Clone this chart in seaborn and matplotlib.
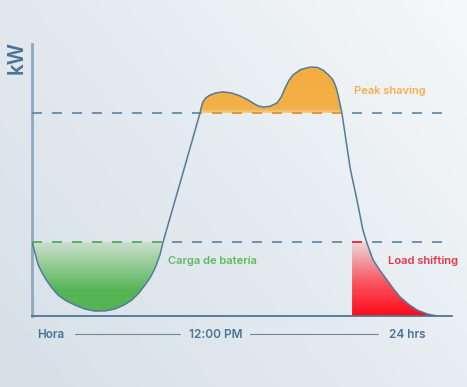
import numpy as np
import pandas as pd
import matplotlib
matplotlib.use("Agg")
import matplotlib.pyplot as plt
import seaborn as sns
from matplotlib.colors import LinearSegmentedColormap
from matplotlib.patches import Rectangle

# load profile (hours, kW on a 0-100 scale)
hours = [0.0, 0.2, 0.36, 0.55, 0.74, 1.1, 1.49, 1.95, 2.46, 3.0, 3.6, 4.2, 4.74,
         5.25, 5.71, 6.1, 6.46, 6.78, 7.03, 7.31, 7.49, 8.51, 9.6, 9.68, 9.77,
         9.95, 10.17, 10.5, 10.91, 11.4, 11.89, 12.3, 12.63, 12.9, 13.2, 13.6,
         14.0, 14.25, 14.46, 14.68, 14.91, 15.35, 15.89, 16.3, 16.63, 16.95,
         17.2, 17.38, 17.49, 17.6, 17.71, 18.17, 18.29, 18.57, 18.91, 19.14,
         19.49, 19.9, 20.29, 20.65, 21.03, 21.5, 22.0, 22.6, 23.14]
load = [27.2, 22.5, 18.75, 16.2, 14.0, 10.6, 7.7, 5.6, 4.0, 2.6, 1.8, 1.9, 2.6,
        4.0, 5.9, 8.4, 11.4, 14.4, 17.6, 22.4, 27.2, 50.0, 74.6, 76.9, 78.7,
        80.3, 81.2, 82.0, 82.4, 82.0, 80.9, 79.6, 78.3, 77.3, 76.8, 77.1, 78.3,
        80.6, 83.8, 86.6, 88.6, 90.6, 91.5, 91.4, 90.4, 88.6, 86.8, 84.0, 81.2,
        78.0, 74.6, 54.8, 51.0, 42.6, 31.6, 26.8, 20.6, 16.6, 13.2, 10.0, 7.0,
        4.4, 2.2, 0.7, 0.0]

peak_level = 74.6
charge_level = 27.2
shift_start = 18.29

time_labels = ["Hora", "12:00 PM", "24 hrs"]

df = pd.DataFrame({"hora": hours, "kw": load})
x = np.array(hours)
y = np.array(load)

sns.set_style("white")
plt.rcParams["font.family"] = ["Inter", "DejaVu Sans"]
plt.rcParams["lines.scale_dashes"] = False

fig = plt.figure(figsize=(4.67, 3.87), dpi=100)

# background gradient
bg = fig.add_axes([0, 0, 1, 1])
bg_cmap = LinearSegmentedColormap.from_list("bg", ["#d6e0e8", "#e4ebf0", "#f6f8f9"])
gx, gy = np.meshgrid(np.linspace(0, 1, 200), np.linspace(0, 1, 200))
bg.imshow(gx * 0.6 + gy * 0.4, cmap=bg_cmap, origin="lower", extent=[0, 1, 0, 1], aspect="auto")
bg.set_axis_off()

ax = fig.add_axes([32 / 467, 71 / 387, 420 / 467, 272 / 387])
ax.set_facecolor("none")


# fill a region with a vertical colour gradient, clipped to the fill_between shape
def gradient_fill(poly, colors, y0, y1, x0=0, x1=24):
    cmap = LinearSegmentedColormap.from_list("g", colors)
    grad = np.linspace(0, 1, 256).reshape(-1, 1)
    im = ax.imshow(grad, cmap=cmap, origin="lower", aspect="auto",
                   extent=[x0, x1, y0, y1], zorder=2, interpolation="bilinear")
    im.set_clip_path(poly.get_paths()[0], ax.transData)
    poly.set_visible(False)


# green: battery charging (below the lower level)
m = x <= 7.5
g_poly = ax.fill_between(x[m], y[m], charge_level, color="none")
gradient_fill(g_poly, [(0.0, "#52b452"), (0.35, "#56b656"), (1.0, "#cbdfcd")],
              0, charge_level)

# orange: peak shaving (above the upper level)
m = (x >= 9.6) & (x <= 17.71)
o_poly = ax.fill_between(x[m], peak_level, y[m], color="none")
gradient_fill(o_poly, [(0.0, "#f6cf9c"), (0.08, "#f4b049"), (1.0, "#f3ac3e")],
              peak_level, 92)

# red: load shifting
m = x >= shift_start
r_poly = ax.fill_between(x[m], 0, np.minimum(y[m], charge_level), color="none")
gradient_fill(r_poly, [(0.0, "#ff0a1a"), (0.45, "#f8545f"), (1.0, "#eed6da")],
              0, charge_level)

# reference levels
for lvl in (peak_level, charge_level):
    ax.plot([0, 23.5], [lvl, lvl], color="#4f7a9c", lw=1.1, dashes=(7.2, 7.2), zorder=3)


def colored_dash(lvl, xa, xb, color):
    ln, = ax.plot([0, 23.5], [lvl, lvl], color=color, lw=1.2, dashes=(7.2, 7.2), zorder=4)
    rect = Rectangle((xa, lvl - 2), xb - xa, 4, transform=ax.transData)
    ln.set_clip_path(rect)


colored_dash(peak_level, 9.6, 17.71, "#f39a2c")
colored_dash(charge_level, 0, 7.49, "#5cb85c")
colored_dash(charge_level, shift_start, 18.9, "#ff2030")

# load curve
sns.lineplot(data=df, x="hora", y="kw", ax=ax, color="#557a98", lw=1.1,
             sort=False, zorder=5)

ax.set_xlim(0, 24)
ax.set_ylim(0, 100)
ax.set_xlabel("")
ax.set_ylabel("")
ax.set_xticks([])
ax.set_yticks([])
for s in ("top", "right"):
    ax.spines[s].set_visible(False)
ax.spines["left"].set_color("#90a9bf")
ax.spines["left"].set_linewidth(2)
ax.spines["bottom"].set_color("#4d7697")
ax.spines["bottom"].set_linewidth(1.3)
ax.spines["bottom"].set_zorder(6)

# labels
fig.text(17 / 467, 1 - 58 / 387, "kW", rotation=90, ha="center", va="center",
         fontsize=15, fontweight="semibold", color="#4a7396")
ax.text(18.4, 82.7, "Peak shaving", fontsize=8, fontweight="semibold",
        color="#f4b04e", va="center")
ax.text(7.77, 20.2, "Carga de batería", fontsize=8, fontweight="semibold",
        color="#5cba5c", va="center")
ax.text(20.34, 20.2, "Load shifting", fontsize=8, fontweight="semibold",
        color="#e8354b", va="center")

label_x = [51, 216, 407]
for lx, lab in zip(label_x, time_labels):
    fig.text(lx / 467, 1 - 335 / 387, lab, ha="center", va="center",
             fontsize=8.5, fontweight="semibold", color="#4a7396")
for xa, xb in ((75, 180), (250, 378)):
    fig.add_artist(plt.Line2D([xa / 467, xb / 467], [1 - 334 / 387] * 2,
                              color="#6f8799", lw=0.8))

fig.savefig("out.png", dpi=100)
